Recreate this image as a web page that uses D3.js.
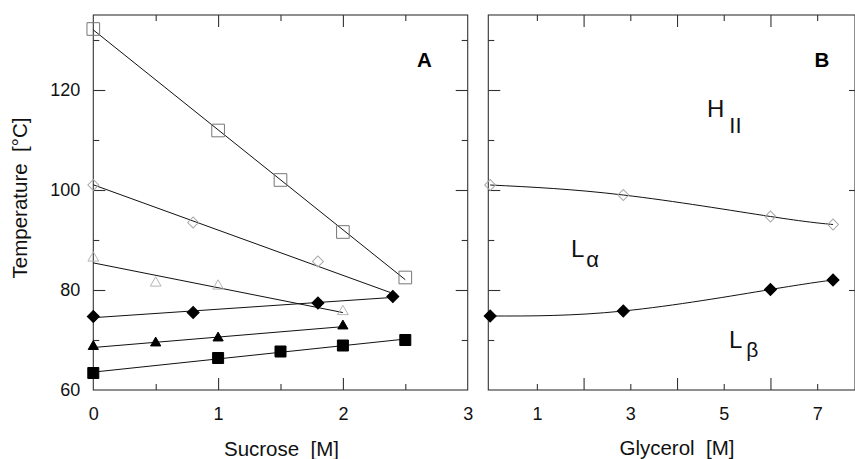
<!DOCTYPE html>
<html>
<head>
<meta charset="utf-8">
<script src="https://cdn.jsdelivr.net/npm/d3@7"></script>
<style>
  body { margin: 0; background: #fff; }
  svg { font-family: "Liberation Sans", Arial, sans-serif; }
</style>
</head>
<body>
<div class="chart"></div>
<script>
// panel A: sucrose series
const sqOpenX = [0, 1, 1.5, 2, 2.5];
const sqOpenY = [132.2, 111.9, 102.0, 91.6, 82.5];
const diaOpenAX = [0, 0.8, 1.8, 2.4];
const diaOpenAY = [101.0, 93.5, 85.7, 78.7];
const triOpenX = [0, 0.5, 1, 2];
const triOpenY = [86.4, 81.4, 80.8, 75.7];
const diaFillAX = [0, 0.8, 1.8, 2.4];
const diaFillAY = [74.7, 75.5, 77.4, 78.7];
const triFillX = [0, 0.5, 1, 2];
const triFillY = [68.7, 69.4, 70.4, 72.8];
const sqFillX = [0, 1, 1.5, 2, 2.5];
const sqFillY = [63.4, 66.4, 67.7, 68.9, 70.0];

// panel B: glycerol series
const glyX = [0, 2.85, 6, 7.34];
const diaOpenBY = [101.0, 99.0, 94.7, 93.1];
const diaFillBY = [74.8, 75.8, 80.1, 82.0];

// ticks
const tempLabels = [60, 80, 100, 120];
const tempMajor = [80, 100, 120];
const tempMinor = [70, 90, 110, 130];
const sucLabels = [0, 1, 2, 3];
const sucMajor = [1, 2];
const sucMinor = [0.5, 1.5, 2.5];
const glyLabels = [1, 3, 5, 7];
const glyMajor = [2, 4, 6];
const glyMinor = [1, 3, 5, 7];

const W = 855, H = 459;
const yTop = 15, yBottom = 390;
const pA = { left: 93.3, right: 467.7 };
const pB = { left: 488.3, right: 855 };

const svg = d3.select('.chart').append('svg')
  .attr('width', W).attr('height', H);

const y = d3.scaleLinear().domain([60, 135]).range([yBottom, yTop]);
const xA = d3.scaleLinear().domain([0, 3]).range([pA.left, pA.right]);
const xB = d3.scaleLinear().domain([-0.04, 7.81]).range([pB.left, pB.right]);

const frameColor = '#333';

function ticks(g, axis) {
  g.call(axis);
  g.select('.domain').remove();
  g.selectAll('.tick line').attr('stroke', frameColor).attr('stroke-width', 1.1);
  g.selectAll('.tick text').attr('fill', '#111').style('font-size', '18px')
    .style('font-family', '"Liberation Sans", Arial, sans-serif');
}

function frame(p) {
  svg.append('rect')
    .attr('x', p.left).attr('y', yTop)
    .attr('width', p.right - p.left).attr('height', yBottom - yTop)
    .attr('fill', 'none').attr('stroke', frameColor).attr('stroke-width', 1.1);
}

// panel A axes
frame(pA);
svg.append('g').attr('transform', `translate(0,${yBottom})`)
  .call(g => ticks(g, d3.axisBottom(xA).tickValues(sucMajor).tickSize(-12).tickFormat('')));
svg.append('g').attr('transform', `translate(0,${yBottom})`)
  .call(g => ticks(g, d3.axisBottom(xA).tickValues(sucMinor).tickSize(-6).tickFormat('')));
svg.append('g').attr('transform', `translate(0,${yBottom})`)
  .call(g => ticks(g, d3.axisBottom(xA).tickValues(sucLabels).tickSize(0).tickPadding(17).tickFormat(d3.format('d'))));
svg.append('g').attr('transform', `translate(0,${yTop})`)
  .call(g => ticks(g, d3.axisTop(xA).tickValues(sucMajor).tickSize(-12).tickFormat('')));
svg.append('g').attr('transform', `translate(0,${yTop})`)
  .call(g => ticks(g, d3.axisTop(xA).tickValues(sucMinor).tickSize(-6).tickFormat('')));
svg.append('g').attr('transform', `translate(${pA.left},0)`)
  .call(g => ticks(g, d3.axisLeft(y).tickValues(tempMajor).tickSize(-12).tickFormat('')));
svg.append('g').attr('transform', `translate(${pA.left},0)`)
  .call(g => ticks(g, d3.axisLeft(y).tickValues(tempMinor).tickSize(-6).tickFormat('')));
svg.append('g').attr('transform', `translate(${pA.left},0)`)
  .call(g => ticks(g, d3.axisLeft(y).tickValues(tempLabels).tickSize(0).tickPadding(13).tickFormat(d3.format('d'))));
svg.append('g').attr('transform', `translate(${pA.right},0)`)
  .call(g => ticks(g, d3.axisRight(y).tickValues(tempMajor).tickSize(-12).tickFormat('')));
svg.append('g').attr('transform', `translate(${pA.right},0)`)
  .call(g => ticks(g, d3.axisRight(y).tickValues(tempMinor).tickSize(-6).tickFormat('')));

// panel B axes
frame(pB);
svg.append('g').attr('transform', `translate(0,${yBottom})`)
  .call(g => ticks(g, d3.axisBottom(xB).tickValues(glyMajor).tickSize(-12).tickFormat('')));
svg.append('g').attr('transform', `translate(0,${yBottom})`)
  .call(g => ticks(g, d3.axisBottom(xB).tickValues(glyMinor).tickSize(-6).tickFormat('')));
svg.append('g').attr('transform', `translate(0,${yBottom})`)
  .call(g => ticks(g, d3.axisBottom(xB).tickValues(glyLabels).tickSize(0).tickPadding(17).tickFormat(d3.format('d'))));
svg.append('g').attr('transform', `translate(0,${yTop})`)
  .call(g => ticks(g, d3.axisTop(xB).tickValues(glyMajor).tickSize(-12).tickFormat('')));
svg.append('g').attr('transform', `translate(0,${yTop})`)
  .call(g => ticks(g, d3.axisTop(xB).tickValues(glyMinor).tickSize(-6).tickFormat('')));
svg.append('g').attr('transform', `translate(${pB.left},0)`)
  .call(g => ticks(g, d3.axisLeft(y).tickValues(tempMajor).tickSize(-12).tickFormat('')));
svg.append('g').attr('transform', `translate(${pB.left},0)`)
  .call(g => ticks(g, d3.axisLeft(y).tickValues(tempMinor).tickSize(-6).tickFormat('')));
svg.append('g').attr('transform', `translate(${pB.right},0)`)
  .call(g => ticks(g, d3.axisRight(y).tickValues(tempMajor).tickSize(-6).tickFormat('')));

// least squares line between first and last x
function fitLine(xs, ys) {
  const mx = d3.mean(xs), my = d3.mean(ys);
  const b = d3.sum(xs, (v, i) => (v - mx) * (ys[i] - my)) / d3.sum(xs, v => (v - mx) * (v - mx));
  const a = my - b * mx;
  const x0 = d3.min(xs), x1 = d3.max(xs);
  return [[x0, a + b * x0], [x1, a + b * x1]];
}

const lineA = d3.line().x(d => xA(d[0])).y(d => y(d[1]));
const lineB = d3.line().x(d => xB(d[0])).y(d => y(d[1])).curve(d3.curveNatural);

const seriesA = [
  { xs: sqOpenX, ys: sqOpenY, sym: d3.symbolSquare, size: 160, rot: 0, fill: 'none', stroke: '#777' },
  { xs: diaOpenAX, ys: diaOpenAY, sym: d3.symbolSquare, size: 60, rot: 45, fill: 'none', stroke: '#aaa' },
  { xs: triOpenX, ys: triOpenY, sym: d3.symbolTriangle, size: 50, rot: 0, fill: 'none', stroke: '#b5b5b5' },
  { xs: diaFillAX, ys: diaFillAY, sym: d3.symbolSquare, size: 72, rot: 45, fill: '#000', stroke: '#000' },
  { xs: triFillX, ys: triFillY, sym: d3.symbolTriangle, size: 45, rot: 0, fill: '#000', stroke: '#000' },
  { xs: sqFillX, ys: sqFillY, sym: d3.symbolSquare, size: 121, rot: 0, fill: '#000', stroke: '#000' }
];

const seriesB = [
  { xs: glyX, ys: diaOpenBY, sym: d3.symbolSquare, size: 60, rot: 45, fill: 'none', stroke: '#aaa' },
  { xs: glyX, ys: diaFillBY, sym: d3.symbolSquare, size: 72, rot: 45, fill: '#000', stroke: '#000' }
];

const gA = svg.append('g');
seriesA.forEach(s => {
  gA.append('path').attr('d', lineA(fitLine(s.xs, s.ys)))
    .attr('fill', 'none').attr('stroke', '#111').attr('stroke-width', 1);
});
seriesA.forEach(s => {
  gA.append('g').selectAll('path')
    .data(s.xs.map((v, i) => [v, s.ys[i]]))
    .join('path')
    .attr('transform', d => `translate(${xA(d[0])},${y(d[1])}) rotate(${s.rot})`)
    .attr('d', d3.symbol().type(s.sym).size(s.size))
    .attr('fill', s.fill).attr('stroke', s.stroke).attr('stroke-width', 1);
});

const gB = svg.append('g');
seriesB.forEach(s => {
  gB.append('path').attr('d', lineB(s.xs.map((v, i) => [v, s.ys[i]])))
    .attr('fill', 'none').attr('stroke', '#111').attr('stroke-width', 1);
});
seriesB.forEach(s => {
  gB.append('g').selectAll('path')
    .data(s.xs.map((v, i) => [v, s.ys[i]]))
    .join('path')
    .attr('transform', d => `translate(${xB(d[0])},${y(d[1])}) rotate(${s.rot})`)
    .attr('d', d3.symbol().type(s.sym).size(s.size))
    .attr('fill', s.fill).attr('stroke', s.stroke).attr('stroke-width', 1);
});

// labels
svg.append('text').attr('x', (pA.left + pA.right) / 2 + 1).attr('y', 456)
  .attr('text-anchor', 'middle').style('font-size', '20.5px').attr('fill', '#111')
  .attr('xml:space', 'preserve').text('Sucrose  [M]');
svg.append('text').attr('x', 677).attr('y', 455)
  .attr('text-anchor', 'middle').style('font-size', '20.5px').attr('fill', '#111')
  .attr('xml:space', 'preserve').text('Glycerol  [M]');
svg.append('text').attr('transform', 'translate(27,198) rotate(-90)')
  .attr('text-anchor', 'middle').style('font-size', '20.5px').attr('fill', '#111')
  .attr('xml:space', 'preserve').text('Temperature  [°C]');

svg.append('text').attr('x', 424.5).attr('y', 67).attr('text-anchor', 'middle')
  .style('font-size', '20.5px').style('font-weight', 'bold').text('A');
svg.append('text').attr('x', 822).attr('y', 67).attr('text-anchor', 'middle')
  .style('font-size', '20.5px').style('font-weight', 'bold').text('B');

// phase annotations
function phase(x, yb, main, sub, dx, dy, subSize) {
  const t = svg.append('text').attr('x', x).attr('y', yb).style('font-size', '24px').attr('fill', '#111');
  t.append('tspan').text(main);
  t.append('tspan').attr('dx', dx).attr('dy', dy).style('font-size', subSize).text(sub);
}
phase(707, 117, 'H', 'II', 5, 16, '22px');
phase(571, 257, 'L', 'α', 2, 10, '22px');
phase(729, 348, 'L', 'β', 4, 9, '21px');
</script>
</body>
</html>
